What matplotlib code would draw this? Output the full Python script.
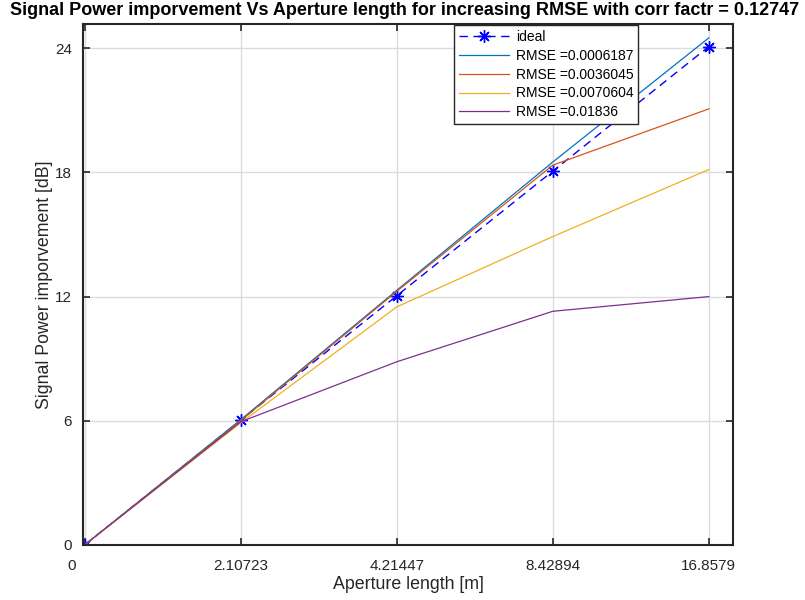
import matplotlib
matplotlib.use('Agg')
import matplotlib.pyplot as plt

plt.rcParams['font.family'] = ['Liberation Sans', 'DejaVu Sans']

# aperture steps (plotted by index) and their labels
steps = [1, 2, 3, 4, 5]
aperture_labels = ['0', '2.10723', '4.21447', '8.42894', '16.8579']

ideal = [0, 6.02, 12.04, 18.06, 24.08]
rmse_1 = [0, 6.05, 12.3, 18.5, 24.5]
rmse_2 = [0, 6.0, 12.25, 18.35, 21.07]
rmse_3 = [0, 5.9, 11.5, 14.9, 18.14]
rmse_4 = [0, 5.95, 8.85, 11.29, 12.0]

rmse_names = ['RMSE =0.0006187', 'RMSE =0.0036045', 'RMSE =0.0070604', 'RMSE =0.01836']
colors = ['#0072BD', '#D95319', '#EDB120', '#7E2F8E']

fig = plt.figure(figsize=(8.05, 6), dpi=100)
ax = fig.add_axes([0.1031, 0.0917, 0.8075, 0.8683])

ax.plot(steps, ideal, color='b', ls='--', dashes=(6, 4), lw=1.0,
        marker=(8, 2, 0), markersize=9, markeredgewidth=1.0, label='ideal')
for vals, name, c in zip([rmse_1, rmse_2, rmse_3, rmse_4], rmse_names, colors):
    ax.plot(steps, vals, color=c, lw=0.9, label=name)

ax.set_xlim(0.99, 5.155)
ax.set_ylim(0, 25.17)
ax.set_xticks(steps)
ax.set_xticklabels([''] + aperture_labels[1:])
ax.set_yticks([0, 6, 12, 18, 24])

# the first x label sits a little left of the axis corner
ax.annotate(aperture_labels[0], xy=(steps[0], 0), xycoords=('data', 'axes fraction'),
            xytext=(-9, -10), textcoords='offset points', ha='center', va='top',
            fontsize=11, color='#262626')

ax.tick_params(direction='in', length=5, width=1.2, labelsize=11, colors='#262626',
               top=True, right=True)
ax.tick_params(axis='x', pad=10)
ax.tick_params(axis='y', pad=8)
ax.grid(True, color='#dcdcdc', lw=1.0)
ax.set_axisbelow(True)
for s in ax.spines.values():
    s.set_linewidth(1.5)
    s.set_color('#262626')

ax.set_xlabel('Aperture length [m]', fontsize=12.8, color='#262626', labelpad=2)
ax.set_ylabel('Signal Power imporvement [dB]', fontsize=12.8, color='#262626', labelpad=1)
fig.text(0.502, 0.982, 'Signal Power imporvement Vs Aperture length for increasing RMSE with corr factr = 0.12747',
         ha='center', va='center', fontsize=13, fontweight='bold', color='black')

leg = ax.legend(loc='upper left', bbox_to_anchor=(454 / 805, 1 - 25 / 600),
                bbox_transform=fig.transFigure, borderaxespad=0, fancybox=False,
                framealpha=1, edgecolor='#262626', fontsize=10, handlelength=3.6,
                borderpad=0.35, labelspacing=0.35, handletextpad=0.5)
leg.get_frame().set_linewidth(1.0)

fig.savefig('out.png', dpi=100)
